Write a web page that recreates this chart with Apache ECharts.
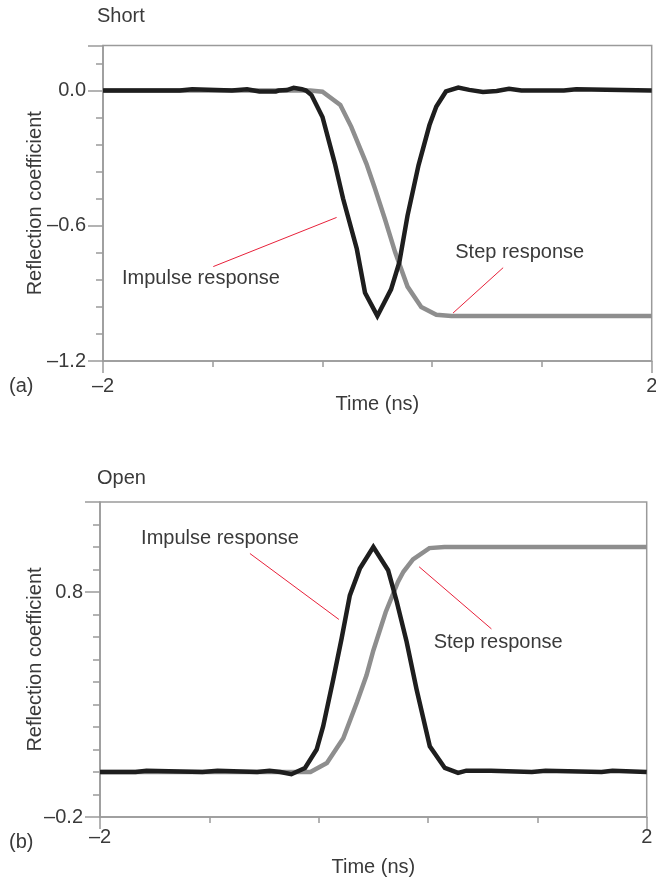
<!DOCTYPE html>
<html>
<head>
<meta charset="utf-8">
<script src="https://cdn.jsdelivr.net/npm/echarts@6/dist/echarts.min.js"></script>
<style>
html,body{margin:0;padding:0;background:#fff;}
#chart{width:656px;height:879px;}
</style>
</head>
<body>
<div id="chart"></div>
<script>
// ---------- DATA (time in ns, reflection coefficient) ----------
const shortImpulse = [
  [-2.00, 0.000], [-1.44, 0.000], [-1.43, 0.006], [-1.35, 0.006], [-1.34, 0.000],
  [-1.06, 0.000], [-1.05, 0.006], [-0.95, 0.006], [-0.94, 0.000], [-0.86, -0.004],
  [-0.74, -0.004], [-0.72, 0.000], [-0.66, 0.002], [-0.61, 0.012], [-0.55, 0.006],
  [-0.52, 0.000], [-0.48, -0.020], [-0.40, -0.117], [-0.31, -0.323], [-0.25, -0.479],
  [-0.15, -0.702], [-0.09, -0.897], [0.00, -1.000], [0.10, -0.882], [0.16, -0.763],
  [0.22, -0.555], [0.30, -0.332], [0.38, -0.153], [0.43, -0.071], [0.50, -0.004],
  [0.59, 0.013], [0.67, 0.003], [0.77, -0.006], [0.87, -0.002], [0.96, 0.008],
  [1.05, 0.000], [1.36, 0.000], [1.37, 0.006], [1.45, 0.006], [1.46, 0.000], [2.00, 0.000]
];
const shortStep = [
  [-2.00, 0.000], [-0.49, 0.000], [-0.40, -0.005], [-0.27, -0.064], [-0.19, -0.161],
  [-0.08, -0.324], [-0.02, -0.430], [0.055, -0.570], [0.13, -0.718], [0.22, -0.870],
  [0.32, -0.960], [0.43, -0.995], [0.54, -1.000], [2.00, -1.000]
];
const openImpulse = [
  [-2.00, 0.000], [-1.74, 0.000], [-1.73, 0.006], [-1.66, 0.006], [-1.65, 0.000],
  [-1.25, 0.000], [-1.24, 0.006], [-1.14, 0.006], [-1.13, 0.000], [-0.85, 0.000],
  [-0.84, 0.006], [-0.76, 0.006], [-0.75, 0.000], [-0.68, 0.000], [-0.60, -0.010],
  [-0.50, 0.018], [-0.415, 0.100], [-0.367, 0.204], [-0.294, 0.410], [-0.233, 0.591],
  [-0.172, 0.785], [-0.099, 0.904], [0.00, 1.000], [0.108, 0.897], [0.170, 0.760],
  [0.243, 0.580], [0.316, 0.368], [0.413, 0.114], [0.523, 0.018], [0.620, -0.004],
  [0.68, 0.006], [0.86, 0.006], [0.87, 0.000], [1.16, 0.000], [1.17, 0.006],
  [1.26, 0.006], [1.27, 0.000], [1.67, 0.000], [1.68, 0.006], [1.75, 0.006],
  [1.76, 0.000], [2.00, 0.000]
];
const openStep = [
  [-2.00, 0.000], [-0.46, 0.000], [-0.34, 0.040], [-0.22, 0.150], [-0.12, 0.310],
  [-0.05, 0.430], [0.00, 0.540], [0.09, 0.710], [0.18, 0.845], [0.22, 0.890],
  [0.29, 0.945], [0.41, 0.995], [0.52, 1.000], [2.00, 1.000]
];

// axis ranges / tick spacing
const timeRange = [-2, 2];
const timeMajor = 4, timeMinor = 0.8;
const shortYRange = [-1.2, 0.2];
const shortYMajor = 0.6, shortYMinor = 0.12;
const openYRange = [-0.2, 1.2];
const openYMajor = 1.0, openYMinor = 0.1;

const panelTitles = ['Short', 'Open'];
const panelTags = ['(a)', '(b)'];
const xName = 'Time (ns)';
const yName = 'Reflection coefficient';

// annotations (data units): label centre, leader line from -> to
const shortNotes = [
  { text: 'Impulse response', at: [-1.286, -0.834], from: [-1.196, -0.781], to: [-0.297, -0.563] },
  { text: 'Step response', at: [1.038, -0.718], from: [0.917, -0.786], to: [0.552, -0.987] }
];
const openNotes = [
  { text: 'Impulse response', at: [-1.122, 1.040], from: [-0.903, 0.971], to: [-0.252, 0.678] },
  { text: 'Step response', at: [0.913, 0.576], from: [0.335, 0.912], to: [0.864, 0.636] }
];

// ---------- STYLE ----------
const FONT = 'Liberation Sans';
const TXT = '#3a3a3a';
const AX = '#9a9a9a';
const RED = '#e8213a';
const BLACK = '#1e1e1e';
const GRAY = '#8e8e8e';

const dash = s => s.replace('-', '\u2013');
function yFmt(max) {
  return function (v) {
    if (Math.abs(v - max) < 1e-9) return '';
    if (Math.abs(v) < 1e-9) v = 0;
    return dash(v.toFixed(1));
  };
}
const xFmt = v => dash(String(Math.round(v)));

const grids = [
  { left: 103, top: 45.5, right: 4.3, height: 315.5 },
  { left: 100, top: 502, right: 9.3, height: 315 }
];

function xAxes(gi, labelMargin, nameGap) {
  return [
    {
      type: 'value', gridIndex: gi, position: 'bottom', min: timeRange[0], max: timeRange[1],
      interval: timeMajor, splitLine: { show: false },
      axisLine: { show: true, onZero: false, lineStyle: { color: AX, width: 1.5 } },
      axisTick: { show: true, length: 12, lineStyle: { color: AX, width: 1.5 } },
      axisLabel: { show: true, margin: labelMargin, formatter: xFmt, color: TXT, fontSize: 20, fontFamily: FONT, showMinLabel: true, showMaxLabel: true },
      name: xName, nameLocation: 'middle', nameGap: nameGap, nameMoveOverlap: false,
      nameTextStyle: { color: TXT, fontSize: 20, fontFamily: FONT }
    },
    {
      type: 'value', gridIndex: gi, position: 'bottom', min: timeRange[0], max: timeRange[1],
      interval: timeMinor, splitLine: { show: false },
      axisLine: { show: false, onZero: false },
      axisTick: { show: true, length: 6, lineStyle: { color: AX, width: 1.5 } },
      axisLabel: { show: false }
    }
  ];
}
function yAxes(gi, range, major, minor, nameGap) {
  return [
    {
      type: 'value', gridIndex: gi, position: 'left', min: range[0], max: range[1],
      interval: major, splitLine: { show: false },
      axisLine: { show: true, onZero: false, lineStyle: { color: AX, width: 1.5 } },
      axisTick: { show: true, length: 15, lineStyle: { color: AX, width: 1.5 } },
      axisLabel: { show: true, margin: 17, formatter: yFmt(range[1]), color: TXT, fontSize: 20, fontFamily: FONT, showMinLabel: true, showMaxLabel: true },
      name: yName, nameLocation: 'middle', nameGap: nameGap, nameMoveOverlap: false,
      nameTextStyle: { color: TXT, fontSize: 20, fontFamily: FONT }
    },
    {
      type: 'value', gridIndex: gi, position: 'left', min: range[0], max: range[1],
      interval: minor, splitLine: { show: false },
      axisLine: { show: false, onZero: false },
      axisTick: { show: true, length: 7, lineStyle: { color: AX, width: 1.5 } },
      axisLabel: { show: false }
    }
  ];
}

function notesMarks(notes) {
  return {
    markLine: {
      silent: true, symbol: ['none', 'none'], animation: false,
      lineStyle: { color: RED, width: 1, type: 'solid' },
      label: { show: false },
      emphasis: { disabled: true },
      data: notes.map(n => [{ coord: n.from }, { coord: n.to }])
    },
    markPoint: {
      silent: true, symbol: 'circle', symbolSize: 1, animation: false,
      itemStyle: { color: 'rgba(0,0,0,0)' },
      label: { show: true, position: 'inside', formatter: '{b}', color: TXT, fontSize: 20, fontFamily: FONT },
      data: notes.map(n => ({ name: n.text, coord: n.at }))
    }
  };
}

function lineSeries(data, color, xi, yi, extra) {
  return Object.assign({
    type: 'line', data: data, xAxisIndex: xi, yAxisIndex: yi,
    showSymbol: false, symbol: 'none', smooth: false, silent: true,
    lineStyle: { color: color, width: 4.5, join: 'miter', cap: 'butt' },
    itemStyle: { color: color }, emphasis: { disabled: true }
  }, extra || {});
}

const option = {
  animation: false,
  backgroundColor: '#fff',
  textStyle: { fontFamily: FONT },
  title: [
    { text: panelTitles[0], left: 97, top: 6, padding: 0, textStyle: { color: TXT, fontSize: 20, fontWeight: 'normal', fontFamily: FONT } },
    { text: panelTitles[1], left: 97, top: 468, padding: 0, textStyle: { color: TXT, fontSize: 20, fontWeight: 'normal', fontFamily: FONT } },
    { text: panelTags[0], left: 9, top: 376, padding: 0, textStyle: { color: TXT, fontSize: 20, fontWeight: 'normal', fontFamily: FONT } },
    { text: panelTags[1], left: 9, top: 832, padding: 0, textStyle: { color: TXT, fontSize: 20, fontWeight: 'normal', fontFamily: FONT } }
  ],
  grid: grids.map(g => Object.assign({ show: true, borderColor: AX, borderWidth: 1.5, backgroundColor: 'transparent', containLabel: false, outerBoundsMode: 'none' }, g)),
  xAxis: [].concat(xAxes(0, 15, 33), xAxes(1, 10, 40)),
  yAxis: [].concat(
    yAxes(0, shortYRange, shortYMajor, shortYMinor, 58),
    yAxes(1, openYRange, openYMajor, openYMinor, 55)
  ),
  series: [
    lineSeries(shortStep, GRAY, 0, 0, notesMarks(shortNotes)),
    lineSeries(shortImpulse, BLACK, 0, 0),
    lineSeries(openStep, GRAY, 2, 2, notesMarks(openNotes)),
    lineSeries(openImpulse, BLACK, 2, 2)
  ]
};

const chart = echarts.init(document.getElementById('chart'), null, { renderer: 'canvas' });
chart.setOption(option);
</script>
</body>
</html>
